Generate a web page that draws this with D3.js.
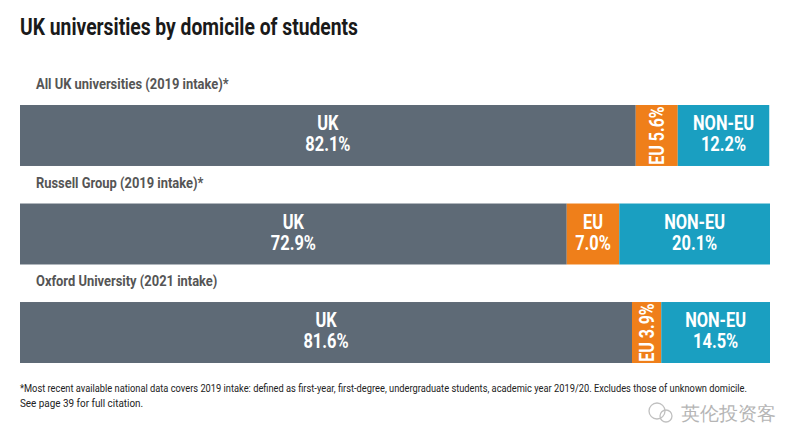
<!DOCTYPE html>
<html>
<head>
<meta charset="utf-8">
<script src="https://cdn.jsdelivr.net/npm/d3@7"></script>
<style>
  body { margin: 0; background: #fff; }
  svg text { font-family: Roboto, "Noto Sans", sans-serif; }
</style>
</head>
<body>
<div id="chart"></div>
<script>
var groups       = ["All UK universities (2019 intake)*", "Russell Group (2019 intake)*", "Oxford University (2021 intake)"];
var categories   = ["UK", "EU", "NON-EU"];
var uk_values    = [82.1, 72.9, 81.6];
var eu_values    = [5.6, 7.0, 3.9];
var noneu_values = [12.2, 20.1, 14.5];
var colors       = ["#5e6a76", "#ef7f1a", "#1a9fc1"];

var chart_width  = 800;
var chart_height = 447;

var svg = d3.select("#chart")
    .append("svg")
    .attr("width", chart_width)
    .attr("height", chart_height);

// squeeze text to look like a condensed face
function condense(sel, f){
    sel.each(function(){
        var w = this.getComputedTextLength();
        d3.select(this)
            .attr("textLength", w * f)
            .attr("lengthAdjust", "spacingAndGlyphs");
    });
}

// title
svg.append("text")
    .attr("x", 20)
    .attr("y", 35)
    .attr("font-size", 23)
    .attr("font-weight", "bold")
    .attr("fill", "#1a1a1a")
    .text("UK universities by domicile of students")
    .attr("textLength", 338)
    .attr("lengthAdjust", "spacingAndGlyphs");

var x_scale = d3.scaleLinear()
    .domain([0, 100])
    .range([20, 770]);

var y_scale = d3.scaleBand()
    .domain(groups)
    .range([105, 363])
    .paddingInner(0.381)
    .paddingOuter(0);

// stacked segments per row
var rows = groups.map(function(g, i){
    var vals = [uk_values[i], eu_values[i], noneu_values[i]];
    var start = 0;
    return vals.map(function(v, j){
        var seg = { group: g, cat: categories[j], value: v, x0: start, x1: start + v, color: colors[j] };
        start += v;
        return seg;
    });
});

groups.forEach(function(g, i){
    var top = y_scale(g);
    var bh = y_scale.bandwidth();

    svg.append("text")
        .attr("x", 36)
        .attr("y", top - 16)
        .attr("font-size", 15)
        .attr("font-weight", "bold")
        .attr("fill", "#555")
        .text(g)
        .call(condense, 0.86);

    var seg = svg.selectAll(".seg" + i)
        .data(rows[i])
        .enter()
        .append("g")
        .attr("class", "seg" + i);

    seg.append("rect")
        .attr("x", function(d){ return x_scale(d.x0); })
        .attr("y", top)
        .attr("width", function(d){ return x_scale(d.x1) - x_scale(d.x0); })
        .attr("height", bh)
        .attr("fill", function(d){ return d.color; });

    seg.each(function(d){
        var cx = (x_scale(d.x0) + x_scale(d.x1)) / 2;
        var w = x_scale(d.x1) - x_scale(d.x0);
        var label = d.value.toFixed(1) + "%";
        var node = d3.select(this);
        if (w < 45) {
            node.append("text")
                .attr("transform", "translate(" + (cx + 7) + "," + (top + bh / 2) + ") rotate(-90)")
                .attr("text-anchor", "middle")
                .attr("font-size", 20)
                .attr("font-weight", "bold")
                .attr("fill", "#fff")
                .text(d.cat + " " + label)
                .call(condense, 0.8);
        } else {
            node.append("text")
                .attr("x", cx)
                .attr("y", top + 25)
                .attr("text-anchor", "middle")
                .attr("font-size", 20)
                .attr("font-weight", "bold")
                .attr("fill", "#fff")
                .text(d.cat)
                .call(condense, 0.82);
            node.append("text")
                .attr("x", cx)
                .attr("y", top + 46)
                .attr("text-anchor", "middle")
                .attr("font-size", 20)
                .attr("font-weight", "bold")
                .attr("fill", "#fff")
                .text(label)
                .call(condense, 0.82);
        }
    });
});

// footnote
svg.append("text")
    .attr("x", 20)
    .attr("y", 392)
    .attr("font-size", 11.5)
    .attr("fill", "#222")
    .text("*Most recent available national data covers 2019 intake: defined as first-year, first-degree, undergraduate students, academic year 2019/20. Excludes those of unknown domicile.")
    .attr("textLength", 727)
    .attr("lengthAdjust", "spacingAndGlyphs");
svg.append("text")
    .attr("x", 20)
    .attr("y", 407)
    .attr("font-size", 11.5)
    .attr("fill", "#222")
    .text("See page 39 for full citation.")
    .call(condense, 0.86);

// watermark
svg.append("text")
    .attr("x", 776)
    .attr("y", 420)
    .attr("text-anchor", "end")
    .attr("font-size", 19)
    .attr("fill", "#b5b5b5")
    .attr("font-family", "Noto Sans CJK SC")
    .text("英伦投资客");
svg.append("circle")
    .attr("cx", 657).attr("cy", 411).attr("r", 8)
    .attr("fill", "none").attr("stroke", "#c0c0c0").attr("stroke-width", 1.3);
svg.append("circle")
    .attr("cx", 666).attr("cy", 416).attr("r", 6)
    .attr("fill", "none").attr("stroke", "#c0c0c0").attr("stroke-width", 1.3);
</script>
</body>
</html>
